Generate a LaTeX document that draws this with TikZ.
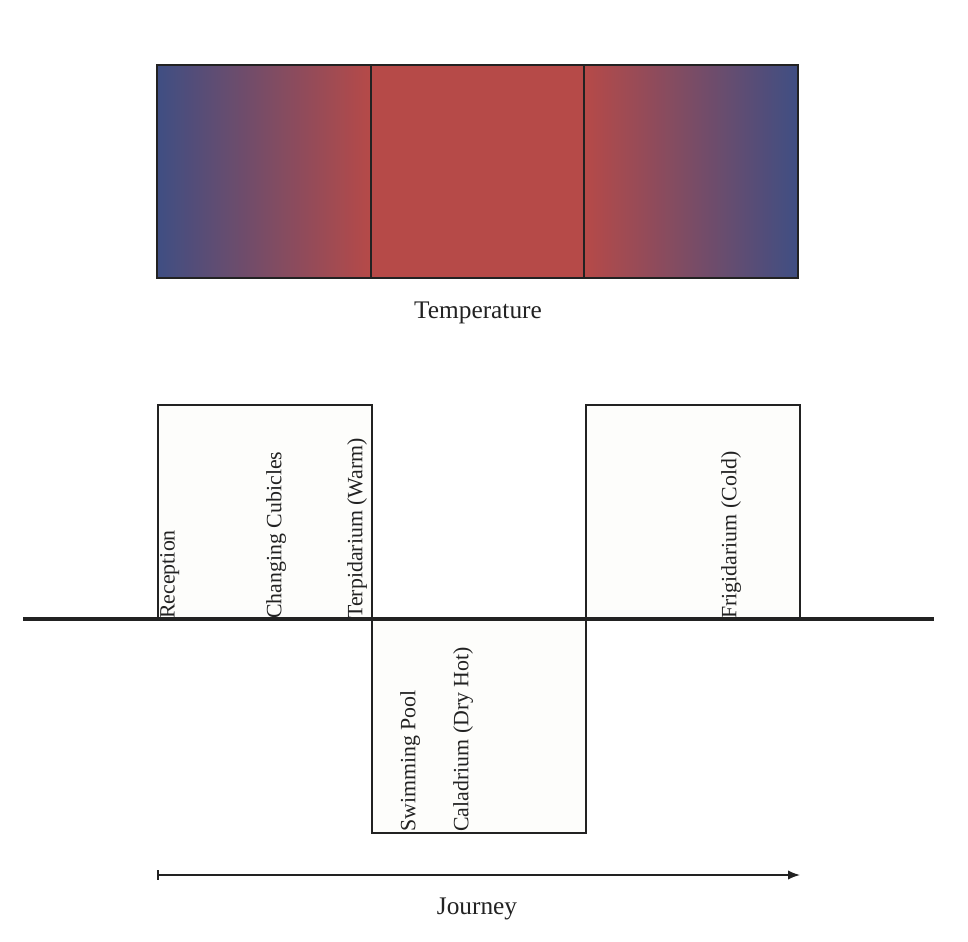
\documentclass[tikz,border=0pt]{standalone}
\usepackage{fontspec}
\setmainfont{Liberation Serif}
\usetikzlibrary{arrows.meta}
\definecolor{tblue}{RGB}{63,78,131}
\definecolor{tred}{RGB}{182,74,72}
\definecolor{ink}{RGB}{34,34,34}
\definecolor{boxfill}{RGB}{253,253,251}
\tikzset{
  room/.style={draw=ink, line width=1.2pt, fill=boxfill},
  vlabel/.style={rotate=90, anchor=north west, inner sep=0pt, text=ink, font=\fontsize{16.4}{18}\selectfont},
  caption/.style={inner sep=0pt, anchor=base, text=ink, font=\fontsize{19}{22}\selectfont},
}
\begin{document}
\begin{tikzpicture}[x=0.75pt,y=-0.75pt]
\useasboundingbox (0,0) rectangle (968,942);
% temperature bar
\shade[left color=tblue, right color=tred] (157,65) rectangle (371,278);
\fill[tred] (371,65) rectangle (584,278);
\shade[left color=tred, right color=tblue] (584,65) rectangle (798,278);
\draw[ink, line width=1.2pt] (157,65) rectangle (798,278);
\draw[ink, line width=1.2pt] (371,65) -- (371,278);
\draw[ink, line width=1.2pt] (584,65) -- (584,278);
\node[caption] (temp) at (478,318) {Temperature};
% rooms
\draw[room] (158,405) rectangle (372,619);
\draw[room] (372,619) rectangle (586,833);
\draw[room] (586,405) rectangle (800,619);
\coordinate (axL) at (23,619);
\coordinate (axR) at (934,619);
\draw[ink, line width=2.4pt] (axL) -- (axR);
\node[vlabel] (rec) at (160,619) {Reception};
\node[vlabel] (chg) at (266,619) {Changing Cubicles};
\node[vlabel] (ter) at (347,619) {Terpidarium (Warm)};
\node[vlabel] (fri) at (721,619) {Frigidarium (Cold)};
\node[vlabel] (swi) at (400,832) {Swimming Pool};
\node[vlabel] (cal) at (453,832) {Caladrium (Dry Hot)};
% journey
\coordinate (jA) at (157,875);
\coordinate (jB) at (800,875);
\draw[ink, line width=1.2pt, {Bar[width=7pt]}-{Latex[length=9pt,width=7pt]}] (jA) -- (jB);
\node[caption] (jour) at (477,914) {Journey};
\end{tikzpicture}
\end{document}
